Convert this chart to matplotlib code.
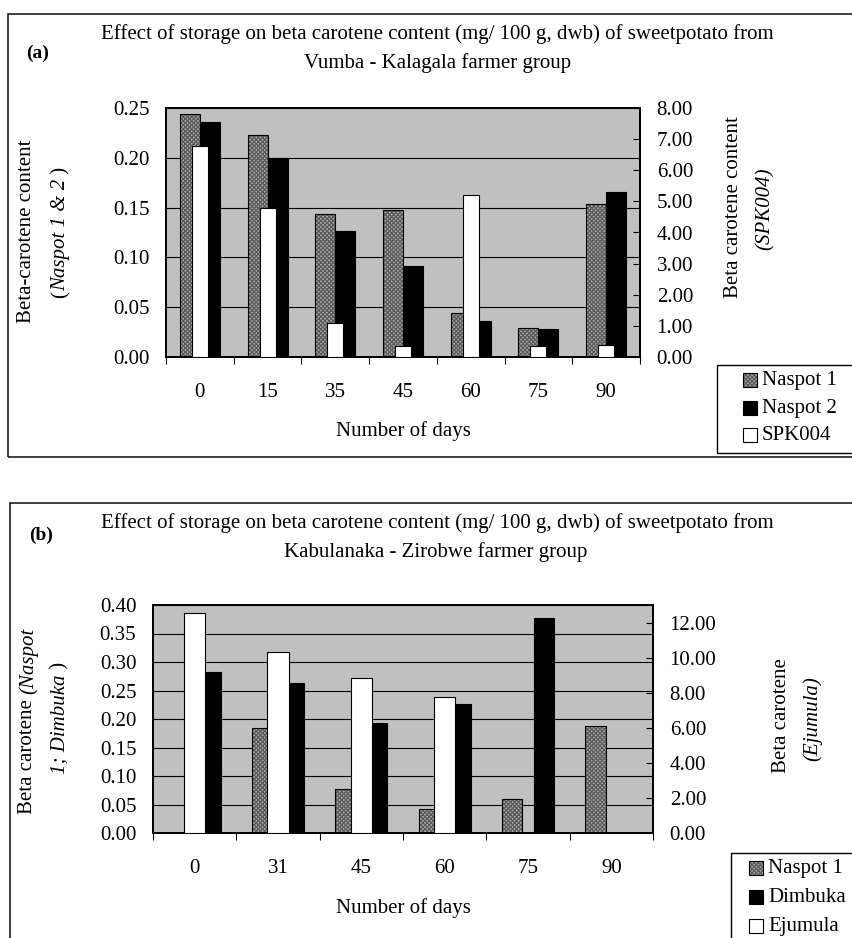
import numpy as np
import matplotlib
matplotlib.use("Agg")
import matplotlib.pyplot as plt
from matplotlib.patches import Rectangle

plt.rcParams["font.family"] = ["Liberation Serif", "DejaVu Serif"]
plt.rcParams["hatch.linewidth"] = 0.9

# ---- data: panel (a) Vumba - Kalagala ----
days_a = ["0", "15", "35", "45", "60", "75", "90"]
naspot1_a = [0.244, 0.223, 0.144, 0.148, 0.044, 0.029, 0.154]
naspot2_a = [0.236, 0.200, 0.127, 0.091, 0.036, 0.028, 0.166]
spk004_a = [6.78, 4.79, 1.09, 0.35, 5.20, 0.35, 0.39]

# ---- data: panel (b) Kabulanaka - Zirobwe ----
days_b = ["0", "31", "45", "60", "75", "90"]
naspot1_b = [np.nan, 0.185, 0.077, 0.042, 0.060, 0.188]
dimbuka_b = [0.282, 0.263, 0.193, 0.226, 0.378, np.nan]
ejumula_b = [12.56, 10.30, 8.82, 7.77, np.nan, np.nan]

W, H = 853, 938
fig = plt.figure(figsize=(W / 100, H / 100), dpi=100)
renderer = fig.canvas.get_renderer()
FS = 15

PLOT_BG = "#c0c0c0"
GRAY = "#ababab"
HATCH_C = "#5a5a5a"
HATCH = "xxxxxxxx"


def fx(px):
    return px / W


def fy(py):
    return 1 - py / H


def text_width(s, style):
    t = fig.text(0, 0, s, fontsize=FS, style=style)
    w = t.get_window_extent(renderer).width
    t.remove()
    return w


def vlabel(x_px, yc_px, pieces):
    """Vertical (rotated 90) label made of pieces with their own font style."""
    widths = [text_width(s, st) for s, st in pieces]
    total = sum(widths)
    y = yc_px + total / 2  # bottom of the text run, in pixels from the top
    for (s, st), w in zip(pieces, widths):
        fig.text(fx(x_px), fy(y), s, fontsize=FS, style=st, rotation=90,
                 rotation_mode="anchor", ha="left", va="center")
        y -= w


def gray_bars(ax, x, vals, width):
    ax.bar(x, vals, width, color=GRAY, edgecolor=HATCH_C, hatch=HATCH,
           linewidth=0, zorder=2)
    ax.bar(x, vals, width, facecolor="none", edgecolor="black",
           linewidth=0.8, zorder=3)


def solid_bars(ax, x, vals, width, color):
    ax.bar(x, vals, width, color=color, edgecolor="black", linewidth=0.8,
           zorder=3)


def style_axes(ax, ax2, cats, ylim, yticks, ylim2, yticks2):
    n = len(cats)
    ax.set_facecolor(PLOT_BG)
    ax.set_xlim(-0.5, n - 0.5)
    ax.set_ylim(*ylim)
    ax.set_yticks(yticks)
    ax.set_yticklabels([f"{v:.2f}" for v in yticks], fontsize=FS)
    ax.yaxis.grid(True, color="black", linewidth=0.8)
    ax.set_axisbelow(True)
    ax.tick_params(axis="y", length=0, pad=12)
    ax.set_xticks(np.arange(n + 1) - 0.5)
    ax.set_xticklabels([""] * (n + 1))
    ax.tick_params(axis="x", which="major", length=5, width=0.8, direction="out")
    ax.set_xticks(np.arange(n), minor=True)
    ax.set_xticklabels(cats, minor=True, fontsize=FS)
    ax.tick_params(axis="x", which="minor", length=0, pad=19)
    ax2.set_ylim(*ylim2)
    ax2.set_yticks(yticks2)
    ax2.set_yticklabels([f"{v:.2f}" for v in yticks2], fontsize=FS)
    ax2.tick_params(axis="y", direction="in", length=5, width=0.8, pad=12)
    for a in (ax, ax2):
        for s in a.spines.values():
            s.set_linewidth(1.3)
            s.set_color("black")


def legend_box(x0, y0, x1, y1):
    fig.patches.append(Rectangle((fx(x0), fy(y1)), fx(x1) - fx(x0), fy(y0) - fy(y1),
                                 transform=fig.transFigure, facecolor="white",
                                 edgecolor="black", linewidth=1.0, zorder=5))


def legend_entry(xs, yc, label, kind):
    size = 14
    if kind == "gray":
        fig.patches.append(Rectangle((fx(xs), fy(yc + size / 2)), size / W, size / H,
                                     transform=fig.transFigure, facecolor=GRAY,
                                     edgecolor=HATCH_C, hatch=HATCH, linewidth=0,
                                     zorder=6))
        fig.patches.append(Rectangle((fx(xs), fy(yc + size / 2)), size / W, size / H,
                                     transform=fig.transFigure, facecolor="none",
                                     edgecolor="black", linewidth=0.8, zorder=7))
    else:
        fig.patches.append(Rectangle((fx(xs), fy(yc + size / 2)), size / W, size / H,
                                     transform=fig.transFigure, facecolor=kind,
                                     edgecolor="black", linewidth=0.8, zorder=6))
    fig.text(fx(xs + size + 5), fy(yc), label, fontsize=FS, ha="left",
             va="center", zorder=8)


# ---- outer frames ----
fig.patches.append(Rectangle((fx(8), fy(457)), fx(870) - fx(8), fy(14) - fy(457),
                             transform=fig.transFigure, facecolor="none",
                             edgecolor="#202020", linewidth=1.2))
fig.patches.append(Rectangle((fx(10), fy(950)), fx(870) - fx(10), fy(503) - fy(950),
                             transform=fig.transFigure, facecolor="none",
                             edgecolor="#202020", linewidth=1.2))

# ---- panel (a) ----
ax_a = fig.add_axes([fx(166), fy(357), fx(640) - fx(166), fy(108) - fy(357)])
ax_a2 = ax_a.twinx()
xa = np.arange(len(days_a))
wa = 0.295
gray_bars(ax_a, xa - wa / 2, naspot1_a, wa)
solid_bars(ax_a, xa + wa / 2, naspot2_a, wa, "black")
solid_bars(ax_a2, xa, spk004_a, 0.236, "white")
style_axes(ax_a, ax_a2, days_a, (0, 0.25), np.arange(0, 0.2501, 0.05),
           (0, 8), np.arange(0, 8.01, 1))

fig.text(fx(437), fy(34), "Effect of storage on beta carotene content (mg/ 100 g, dwb) of sweetpotato from",
         fontsize=FS, ha="center", va="center")
fig.text(fx(438), fy(63), "Vumba - Kalagala farmer group", fontsize=FS, ha="center", va="center")
fig.text(fx(38), fy(53), "(a)", fontsize=FS - 1, fontweight="bold", ha="center", va="center")
vlabel(27, 231, [("Beta-carotene content", "normal")])
vlabel(61, 232, [("(", "normal"), ("Naspot 1 & 2", "italic"), (" )", "normal")])
vlabel(733, 207, [("Beta carotene content", "normal")])
vlabel(765, 209, [("(SPK004)", "italic")])
fig.text(fx(403), fy(431), "Number of days", fontsize=FS, ha="center", va="center")

legend_box(717, 365, 870, 453)
legend_entry(743, 380, "Naspot 1", "gray")
legend_entry(743, 408, "Naspot 2", "black")
legend_entry(743, 435, "SPK004", "white")

# ---- panel (b) ----
ax_b = fig.add_axes([fx(153), fy(833), fx(653) - fx(153), fy(605) - fy(833)])
ax_b2 = ax_b.twinx()
xb = np.arange(len(days_b))
wb = 0.246
gray_bars(ax_b, xb - 0.19, naspot1_b, wb)
solid_bars(ax_b, xb + 0.19, dimbuka_b, wb, "black")
solid_bars(ax_b2, xb, ejumula_b, 0.255, "white")
style_axes(ax_b, ax_b2, days_b, (0, 0.40), np.arange(0, 0.4001, 0.05),
           (0, 13), np.arange(0, 12.01, 2))

fig.text(fx(437), fy(523), "Effect of storage on beta carotene content (mg/ 100 g, dwb) of sweetpotato from",
         fontsize=FS, ha="center", va="center")
fig.text(fx(436), fy(552), "Kabulanaka - Zirobwe farmer group", fontsize=FS, ha="center", va="center")
fig.text(fx(41), fy(535), "(b)", fontsize=FS - 1, fontweight="bold", ha="center", va="center")
vlabel(28, 721, [("Beta carotene ", "normal"), ("(Naspot", "italic")])
vlabel(60, 718, [("1; Dimbuka", "italic"), (" )", "normal")])
vlabel(782, 716, [("Beta carotene", "normal")])
vlabel(812, 719, [("(Ejumula)", "italic")])
fig.text(fx(403), fy(908), "Number of days", fontsize=FS, ha="center", va="center")

legend_box(731, 853, 870, 950)
legend_entry(749, 868, "Naspot 1", "gray")
legend_entry(749, 897, "Dimbuka", "black")
legend_entry(749, 926, "Ejumula", "white")

fig.savefig("out.png", dpi=100)
